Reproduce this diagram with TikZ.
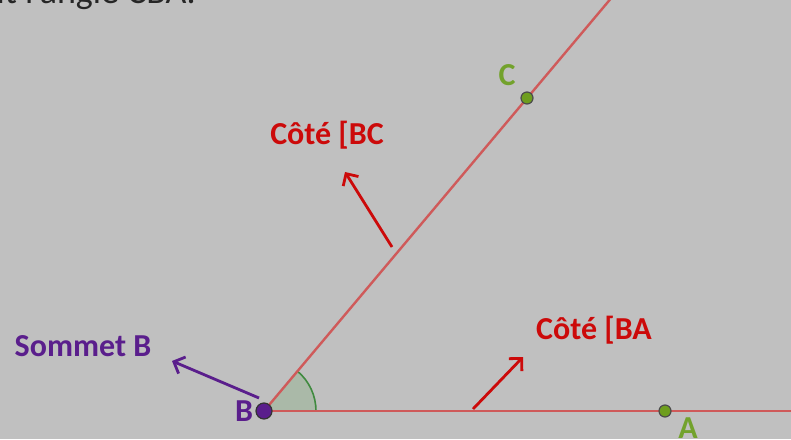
\documentclass[tikz,border=0pt]{standalone}
\usepackage{fontspec}
\setmainfont{Carlito}
\usetikzlibrary{arrows.meta}
\definecolor{bg}{HTML}{C0C0C0}
\definecolor{rayred}{HTML}{CF5A5A}
\definecolor{txtred}{HTML}{CC0A0A}
\definecolor{ptgreen}{HTML}{6E9E1E}
\definecolor{lblgreen}{HTML}{73A22C}
\definecolor{purp}{HTML}{5A1E8C}
\definecolor{anglefill}{HTML}{AAB9A8}
\definecolor{anglestroke}{HTML}{3F8A3F}
\begin{document}
\begin{tikzpicture}[x=1pt,y=1pt,
  lbl/.style={font=\fontsize{32}{38}\selectfont\bfseries, inner sep=0pt},
  ray/.style={draw=rayred, line width=2.4pt},
  pointer/.style={line width=2.8pt, -{Straight Barb[length=9pt,width=18pt,line width=2.8pt]}},
  gpt/.style={circle, fill=ptgreen, draw=black!70, line width=1.2pt, inner sep=0pt, minimum size=12pt},
  bpt/.style={circle, fill=purp, draw=black!80, line width=1.2pt, inner sep=0pt, minimum size=16pt}]
\useasboundingbox (0,0) rectangle (791,439);
\clip (0,0) rectangle (791,439);
\fill[bg] (0,0) rectangle (791,439);
% top clipped text
\node[font=\fontsize{36}{42}\selectfont, text=black!85, anchor=base east, inner sep=0pt] (top) at (196,435) {Soit l'angle CBA.};
% points
\coordinate (B) at (264,28);
\coordinate (A) at (665,28);
\coordinate (C) at (527,341);
\coordinate (Cend) at (618,449);
\coordinate (Aend) at (800,28);
% angle mark
\filldraw[fill=anglefill, draw=none] (B) -- ++(52,0) arc[start angle=0, end angle=50, radius=52] -- cycle;
\draw[anglestroke, line width=1.6pt] (B) ++(52,0) arc[start angle=0, end angle=50, radius=52];
% rays
\draw[ray] (B) -- (Cend);
\draw[ray] (B) -- (Aend);
% pointers
\coordinate (p1s) at (392,192); \coordinate (p1e) at (345,267);
\coordinate (p2s) at (473,30);  \coordinate (p2e) at (523,82);
\coordinate (p3s) at (259,41);  \coordinate (p3e) at (172,78);
\draw[pointer, txtred] (p1s) -- (p1e);
\draw[pointer, txtred] (p2s) -- (p2e);
\draw[pointer, purp] (p3s) -- (p3e);
% labels
\node[lbl, text=txtred] (lbc) at (327,304) {Côté [BC};
\node[lbl, text=txtred] (lba) at (594,109) {Côté [BA};
\node[lbl, text=purp] (lsb) at (83,93) {Sommet B};
\node[lbl, text=purp] (lB) at (244,28) {B};
\node[lbl, text=lblgreen] (lC) at (507,364) {C};
\node[lbl, text=lblgreen] (lA) at (688,11) {A};
% point markers
\node[gpt] (nA) at (A) {};
\node[gpt] (nC) at (C) {};
\node[bpt] (nB) at (B) {};
\end{tikzpicture}
\end{document}
